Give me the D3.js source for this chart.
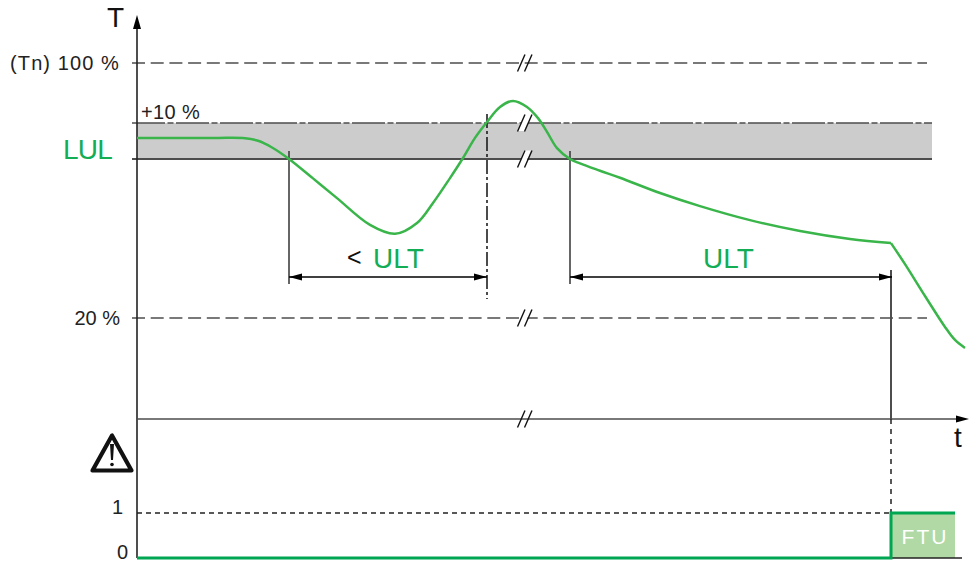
<!DOCTYPE html>
<html><head><meta charset="utf-8">
<script src="https://d3js.org/d3.v7.min.js"></script>
<style>html,body{margin:0;padding:0;background:#fff}svg{display:block}text{font-family:"Liberation Sans",Arial,sans-serif}</style>
</head><body><svg id="c" width="978" height="562"></svg>
<script>
// Data (t in arbitrary time units, T in % of nominal torque)
const curveTime = [0,40,80,108,121,135,152,176,200,233,258,280,296,313,326,338,350,363,376,390,401,410,420,433,443,463,483,523,563,613,663,713,754];
const curveTorque = [76.5,76.5,76.5,76.4,75.6,73.5,69.9,63.8,57.6,49.2,46.4,49.8,56.1,63.9,70.2,76.5,81.5,86.2,88.1,86.2,82.7,78.4,73.3,69.9,68.5,66.2,64,59.2,55.1,50.7,47.3,44.8,43.5];
const dropTime = [754,768,788,808,818,828];
const dropTorque = [43.5,36.9,26.9,17.2,13.1,10.6];
const statusTime = [0,754,754,818];
const statusValue = [0,0,1,1];
const levels = [100,20];
const levelLabels = ["(Tn) 100 %","20 %"];
const levelSpacing = ["1.1","0"];
const bandLow = 69.9, bandHigh = 81.2;
const intervalsShort = [152,350];
const intervalLong = [433,754];
const bandEndTime = 795;

const x = d3.scaleLinear().domain([0,830]).range([137,967]);
const y = d3.scaleLinear().domain([100,20]).range([63,318]);
const s = d3.scaleLinear().domain([0,1]).range([558,513]);

const svg = d3.select("#c");
const green="#39b54a", greenT="#12ad55", dark="#4d4d4d", txt="#222";
const hLine=(x1,x2,yy,stroke,w,dash)=>svg.append("line").attr("x1",x1).attr("x2",x2).attr("y1",yy).attr("y2",yy).attr("stroke",stroke).attr("stroke-width",w).attr("stroke-dasharray",dash||null);
const vLine=(xx,y1,y2,stroke,w,dash)=>svg.append("line").attr("x1",xx).attr("x2",xx).attr("y1",y1).attr("y2",y2).attr("stroke",stroke).attr("stroke-width",w).attr("stroke-dasharray",dash||null);
const tri=(pts)=>svg.append("path").attr("d","M"+pts.map(p=>p.join(",")).join("L")+"Z").attr("fill","#000");
const label=(t,xx,yy,size,fill,anchor,ls)=>svg.append("text").attr("x",xx).attr("y",yy).attr("font-size",size).attr("fill",fill).attr("text-anchor",anchor||"start").attr("letter-spacing",ls||null).text(t);

// band
svg.append("rect").attr("x",x(0)).attr("width",x(bandEndTime)-x(0)).attr("y",y(bandHigh)).attr("height",y(bandLow)-y(bandHigh)).attr("fill","#cccccc");
hLine(132,x(bandEndTime),y(bandHigh),dark,1.5,"33 2.5 6 2.5");
hLine(132,x(bandEndTime),y(bandLow),dark,2);
// dashed levels
levels.forEach(l=>hLine(132,927,y(l),dark,1.5,"13 5.7"));
levels.forEach((l,i)=>label(levelLabels[i],120,y(l)+7,20,txt,"end",levelSpacing[i]));
label("+10 %",141,y(bandHigh)-4,20,txt,"start","0.4");
label("LUL",63,158.5,28,greenT,"start","-0.8");

// T axis + t axis
vLine(x(0),28,558,"#222",1.6);
tri([[137,15],[133,29],[141,29]]);
hLine(137,958,419,dark,1.6);
tri([[969,419],[956,415.5],[956,422.5]]);
label("T",107,27,28,"#111");
label("t",954,447,28,"#111");

// verticals
vLine(x(intervalsShort[0]),151,284,"#333",1.5);
vLine(x(intervalsShort[1]),114,299,"#111",1.5,"14 3 3 3");
vLine(x(intervalLong[0]),151,284,"#333",1.5);
vLine(x(intervalLong[1]),270,419,dark,2);
vLine(x(intervalLong[1]),419,513,"#222",1.5,"5 5");

// interval arrows
const arrow=(a,b)=>{hLine(a,b,277,"#000",1.6);
 tri([[a,277],[a+13,273.5],[a+13,280.5]]);tri([[b,277],[b-13,273.5],[b-13,280.5]]);};
arrow(x(intervalsShort[0]),x(intervalsShort[1]));
arrow(x(intervalLong[0]),x(intervalLong[1])+1);
label("<",347,266,25,"#111");
label("ULT",373,268,28,greenT);
label("ULT",703,268,28,greenT);

// breaks (drawn before the curve)
[[y(100),false],[y(bandHigh),true],[y(bandLow),true],[y(20),true],[419,false]].forEach(([yy,gap])=>{
  const bx=518;
  if(gap) svg.append("path").attr("d",`M${bx},${yy+8}L${bx+6},${yy+8}L${bx+13},${yy-8.5}L${bx+6},${yy-8.5}Z`).attr("fill","#fff");
  [0,7].forEach(o=>svg.append("line").attr("x1",bx+o-0.5).attr("y1",yy+8.5).attr("x2",bx+o+7).attr("y2",yy-8.5).attr("stroke","#111").attr("stroke-width",1.4));
});

// curve
const line=d3.line().x(d=>x(d[0])).y(d=>y(d[1]));
svg.append("path").datum(curveTime.map((t,i)=>[t,curveTorque[i]]))
 .attr("fill","none").attr("stroke",green).attr("stroke-width",2.5)
 .attr("d",line.curve(d3.curveCatmullRom.alpha(0.5)));
svg.append("path").datum(dropTime.map((t,i)=>[t,dropTorque[i]]))
 .attr("fill","none").attr("stroke",green).attr("stroke-width",2.5)
 .attr("d",line.curve(d3.curveCatmullRom.alpha(0.5)));

// status
hLine(137,891,s(1),"#222",1.5,"5 4");
svg.append("rect").attr("x",x(754)).attr("width",x(818)-x(754)).attr("y",s(1)).attr("height",s(0)-s(1)).attr("fill","#b0d9a6");
hLine(137,962,s(0),"#222",1.5);
svg.append("path").datum(statusTime.map((t,i)=>[t,statusValue[i]])).attr("fill","none").attr("stroke","#00a651").attr("stroke-width",3)
 .attr("d",d3.line().x(d=>x(d[0])).y(d=>s(d[1])));
label("FTU",925,544,21,"#fff","middle","2");
label("1",123,514,20,txt,"end");
label("0",128,559,20,txt,"end");

// warning sign
svg.append("path").attr("d","M112,435.5L92.5,470.5L131.5,470.5Z").attr("fill","none").attr("stroke","#111").attr("stroke-width",4.2).attr("stroke-linejoin","round");
svg.append("path").attr("d","M110,444L114,444L113,460L111,460Z").attr("fill","#111");
svg.append("circle").attr("cx",112).attr("cy",464.5).attr("r",1.8).attr("fill","#111");
</script></body></html>
